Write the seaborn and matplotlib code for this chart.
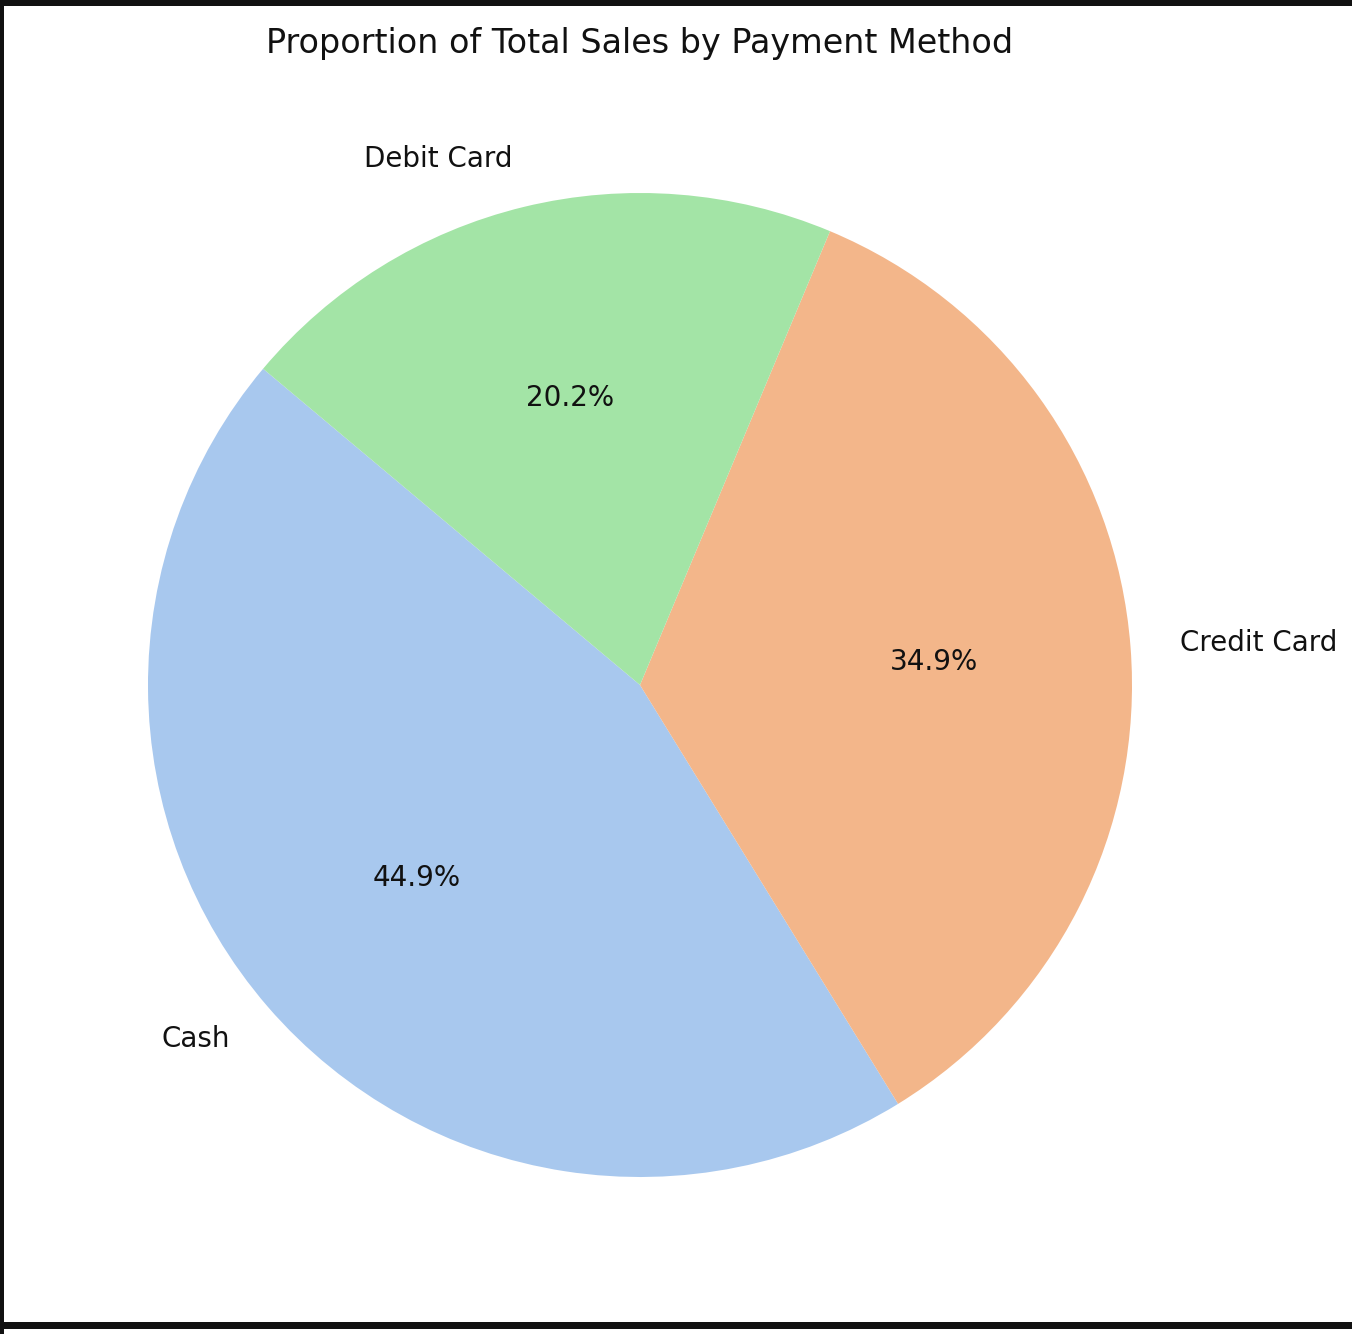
import matplotlib
matplotlib.use('Agg')
import matplotlib.pyplot as plt
import seaborn as sns
from matplotlib.patches import Rectangle

# Data
methods = ['Cash', 'Credit Card', 'Debit Card']
sales_share = [44.9, 34.9, 20.2]
colors = ['#a8c8ee', '#f3b68a', '#a3e4a6']

sns.set_style('white', {'text.color': '#111111'})
plt.rcParams['font.family'] = ['DejaVu Sans']

fig = plt.figure(figsize=(6.76, 6.67), dpi=200)

# axes placed so the pie centre sits at (640, 685) px with radius ~492 px
W, H = 1352, 1334
side = 1230
ax = fig.add_axes([(640 - side / 2) / W, (H - 685 - side / 2) / H, side / W, side / H])

ax.pie(sales_share, labels=methods, colors=colors, autopct='%1.1f%%',
       startangle=140, textprops={'fontsize': 10, 'color': '#111111'},
       wedgeprops={'linewidth': 0})
ax.set_aspect('equal')
ax.set_title('Proportion of Total Sales by Payment Method', fontsize=12,
             pad=6.2, color='#111111')

# screenshot frame edges
frame = dict(transform=fig.transFigure, facecolor='#111111', linewidth=0, zorder=10)
fig.patches.append(Rectangle((0, 1 - 6 / H), 1, 6 / H, **frame))
fig.patches.append(Rectangle((0, 0), 3.5 / W, 1, **frame))
fig.patches.append(Rectangle((0, 5 / H), 1, 7 / H, **frame))

fig.savefig('out.png', dpi=200)
